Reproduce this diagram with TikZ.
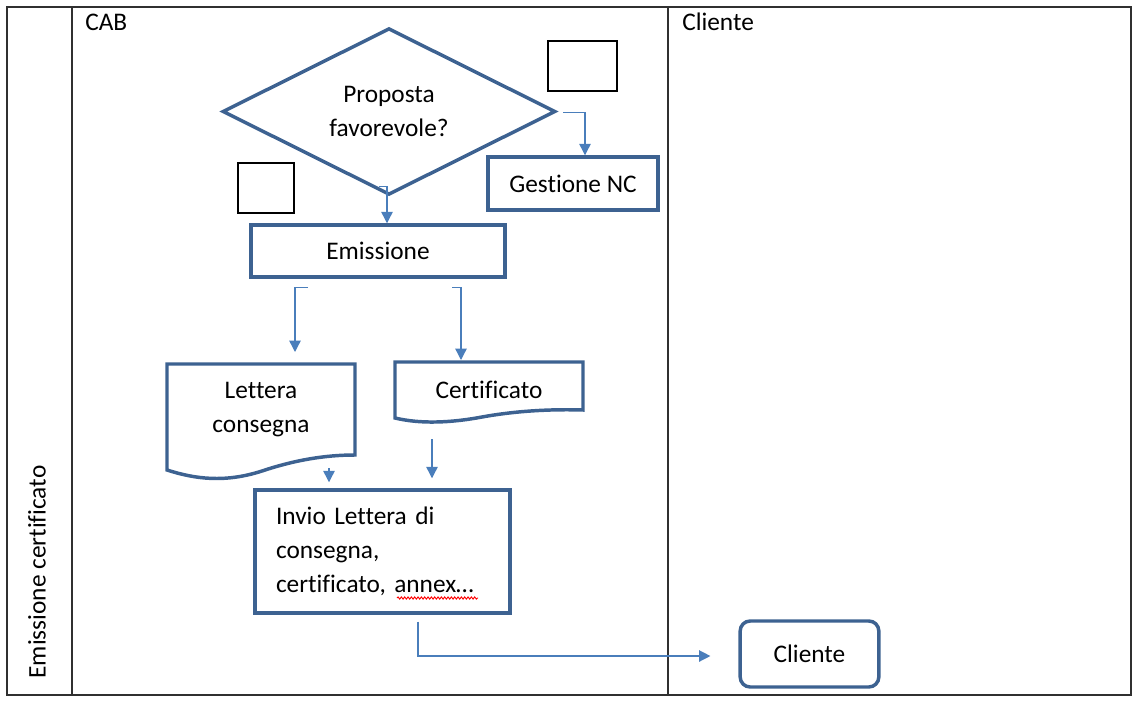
\documentclass[tikz,border=0pt]{standalone}
\usepackage{fontspec}
\setmainfont[Ligatures=NoCommon]{Carlito}
\usetikzlibrary{shapes.geometric,arrows.meta,decorations.pathmorphing,calc}
\definecolor{shapeblue}{HTML}{3D6291}
\definecolor{arrowblue}{HTML}{4A7EBB}
\definecolor{framegray}{HTML}{303030}
\begin{document}
\begin{tikzpicture}[x=0.75pt,y=-0.75pt, font=\fontsize{19}{25.5}\selectfont,
  box/.style={draw=shapeblue, line width=2.6pt, fill=white, inner sep=0pt},
  conn/.style={draw=arrowblue, line width=1pt, -{Triangle[length=8.5pt,width=8.5pt]}},
  frame/.style={draw=framegray, line width=1.5pt},
  blank/.style={draw=black, line width=1.1pt, inner sep=0pt},
  ghost/.style={inner sep=0pt, outer sep=0pt},
  label/.style={inner sep=0pt}]
\useasboundingbox (0,0) rectangle (1133,704);
% frame and lanes
\draw[frame] (7,7) rectangle (1131,695);
\draw[frame] (72,7) -- (72,695);
\draw[frame] (668,7) -- (668,695);
\node[label, anchor=west] (cab) at (85,22) {CAB};
\node[label, anchor=west] (clh) at (682,22) {Cliente};
\node[label, rotate=90] (lane) at (37,572) {Emissione certificato};
% decision
\node[diamond, box, aspect=2, minimum width=249.75pt, minimum height=125pt, align=center] (dec) at (389,111.5) {Proposta\\favorevole?};
% blank boxes
\node[blank, minimum width=51.75pt, minimum height=37.5pt] (b1) at (582.5,66) {};
\node[blank, minimum width=42pt, minimum height=37.5pt] (b2) at (266,188) {};
% process boxes
\node[box, minimum width=127.5pt, minimum height=39.75pt] (nc) at (573,183.5) {Gestione NC};
\node[box, minimum width=190.5pt, minimum height=39pt] (emi) at (378,251) {Emissione};
% documents
\node[ghost, minimum width=141pt, minimum height=79.5pt] (docL) at (261,417) {};
\draw[box] (167,364) -- (355,364) -- (355,455)
  .. controls (325,455) and (295,460) .. (262,471)
  .. controls (225,483) and (195,479) .. (167,470) -- cycle;
\node[label, align=center] (lett) at (261,410) {Lettera\\consegna};
\node[ghost, minimum width=141pt, minimum height=45pt] (docC) at (489,392) {};
\draw[box] (395,362) -- (583,362) -- (583,410)
  .. controls (550,409) and (515,411) .. (482,417)
  .. controls (450,423) and (420,424) .. (395,418) -- cycle;
\node[label] (cert) at (489,390) {Certificato};
% send box
\node[box, minimum height=92.25pt, text width=159.75pt, inner xsep=15.75pt, align=left] (inv) at (382.5,551.5) {Invio Lettera di\\consegna,\\certificato, annex…};
\draw[red, line width=0.7pt, decorate, decoration={snake, amplitude=0.8pt, segment length=2.5pt}] (397,598) -- (478,598);
% client
\node[box, rounded corners=7.5pt, minimum width=104pt, minimum height=49.5pt] (cli) at (809.5,654) {Cliente};
% connectors
\draw[conn] ($(dec.east)+(6,1)$) -| ($(nc.north)+(12,0)$);
\draw[conn] ($(dec.south)+(-10,-10)$) -| ($(emi.north)+(9,0)$);
\draw[conn] ($(emi.south)+(-70,9)$) -| ($(docL.north)+(34,-12)$);
\draw[conn] ($(emi.south)+(74,9)$) -| ($(docC.north)+(-28,-2)$);
\draw[conn] ($(docL.south)+(68,-2)$) -- ($(inv.north)+(-53.5,-6)$);
\draw[conn] ($(docC.south)+(-57,17)$) -- ($(inv.north)+(49.5,-10)$);
\draw[conn] ($(inv.south)+(35.5,7)$) |- ($(cli.west)+(-28,2)$);
\end{tikzpicture}
\end{document}
